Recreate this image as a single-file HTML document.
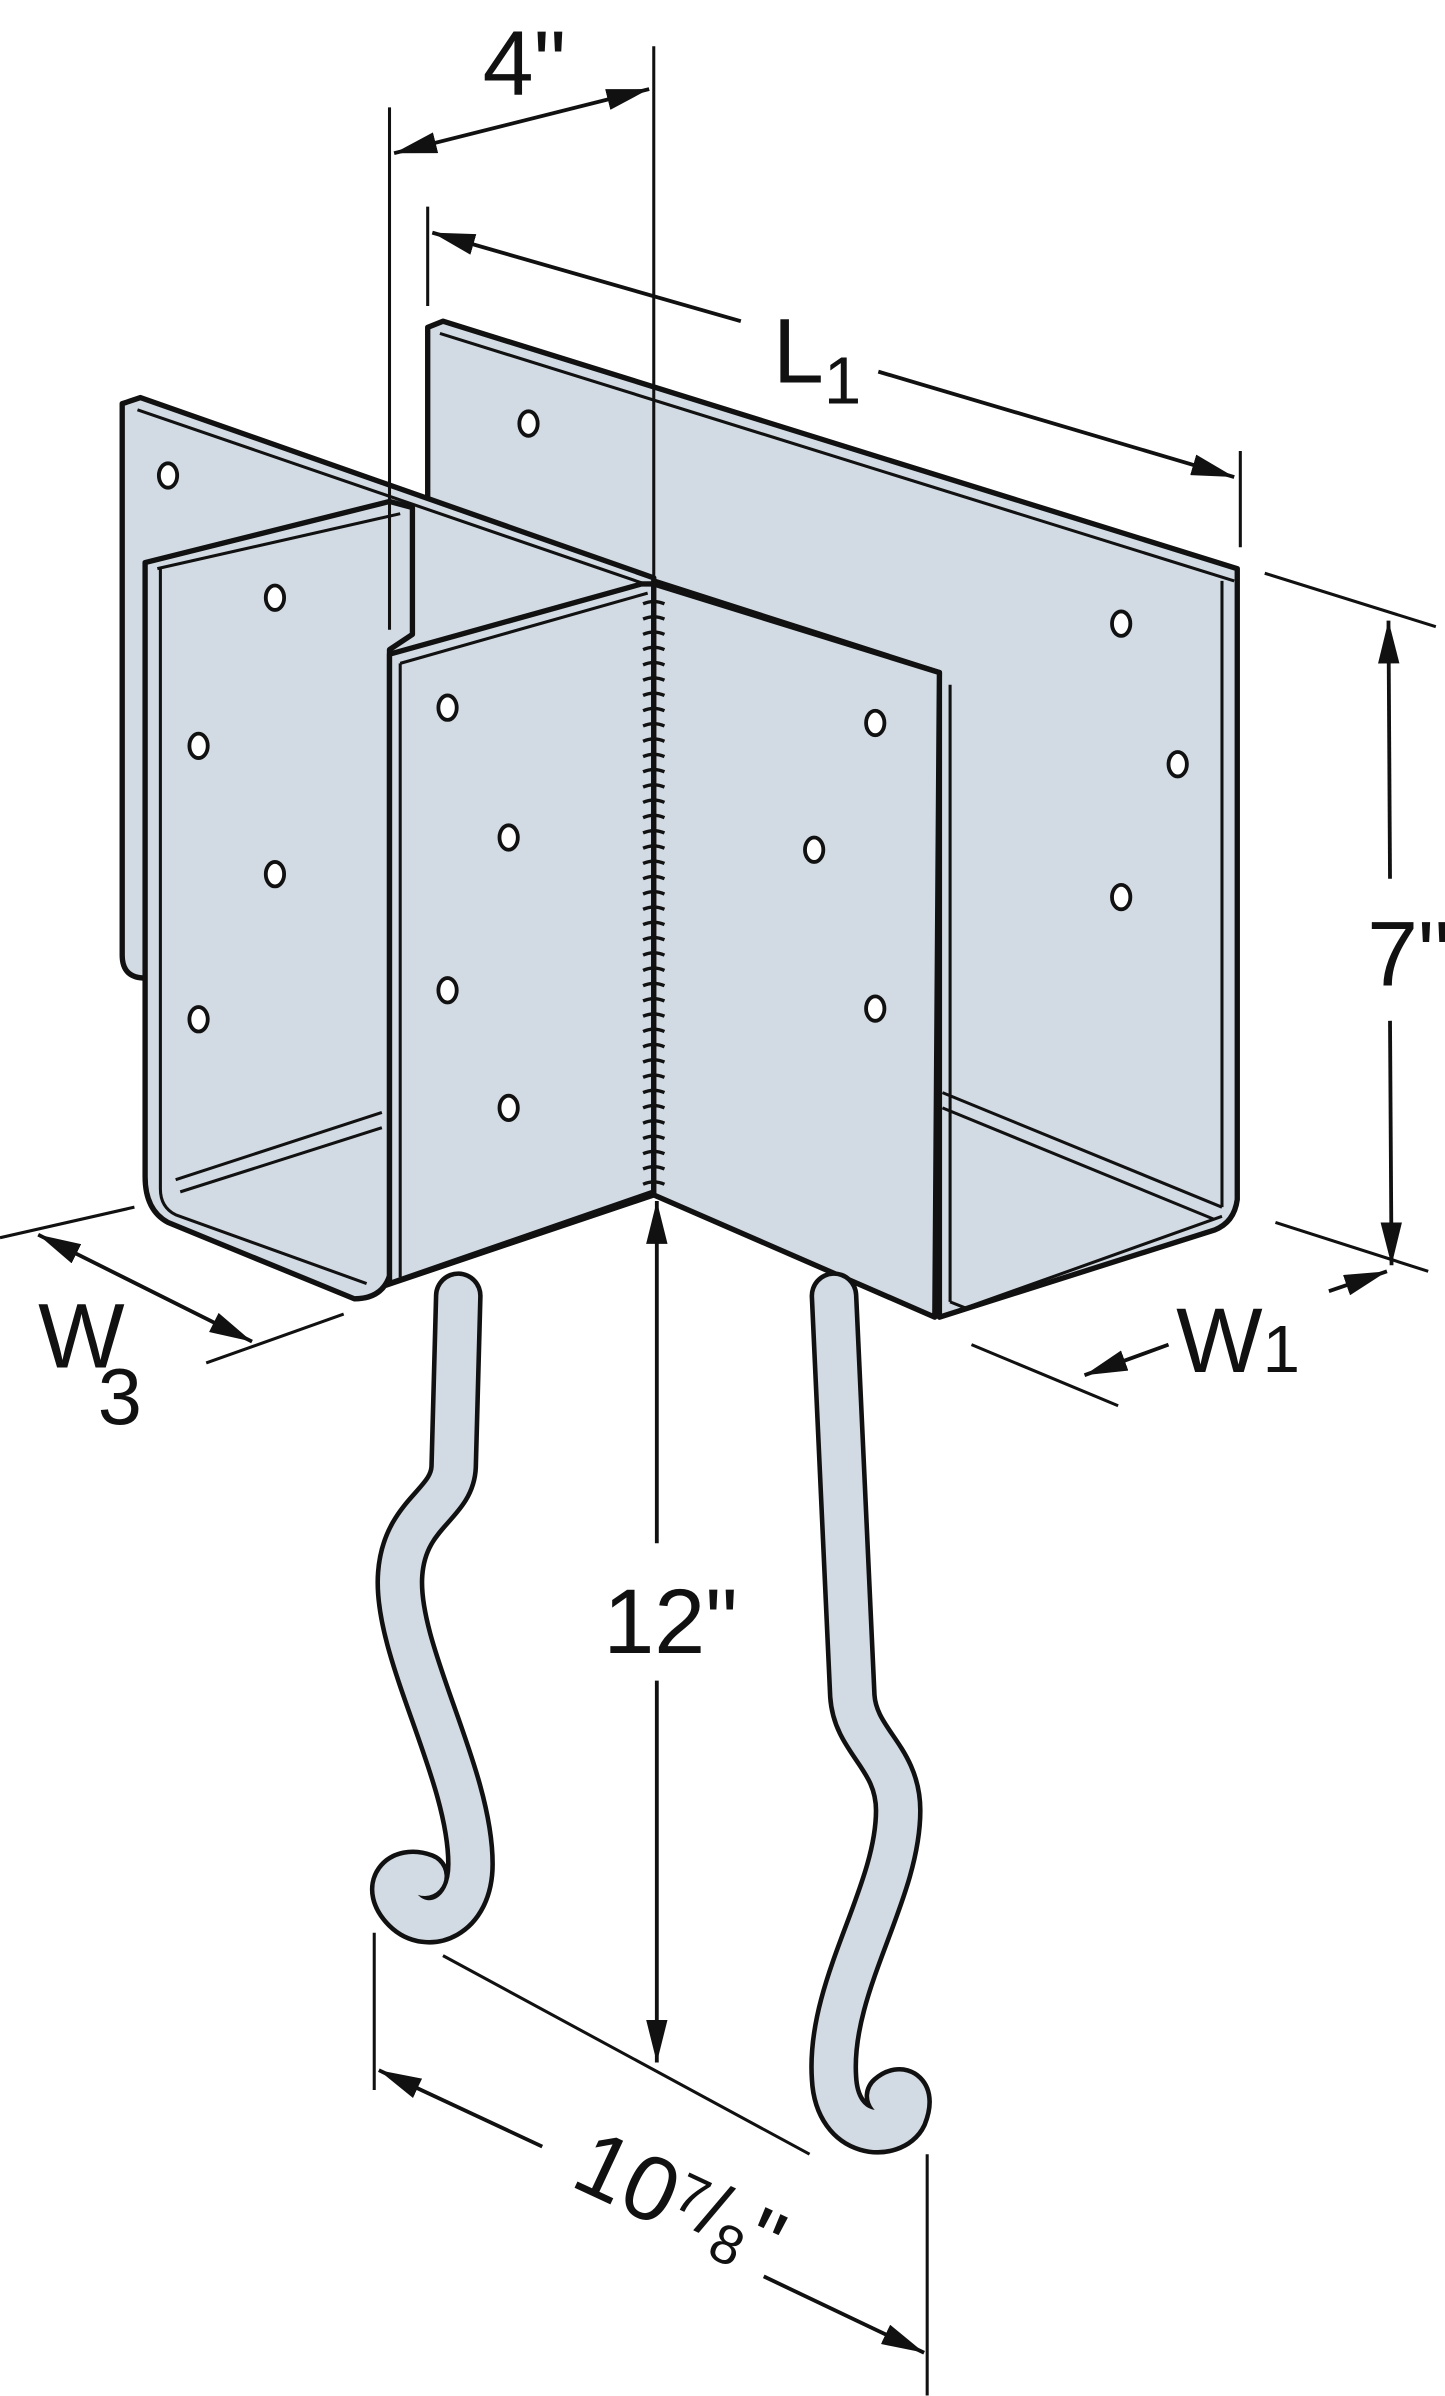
<!DOCTYPE html>
<html><head><meta charset="utf-8"><style>
html,body{margin:0;padding:0;background:#fff}
svg{display:block}
text{font-family:"Liberation Sans Narrow","Liberation Sans",sans-serif;fill:#111}
</style></head><body>
<svg width="1445" height="2396" viewBox="0 0 946 1568" xmlns="http://www.w3.org/2000/svg">
<defs>
<marker id="a" viewBox="0 0 28 14" refX="28" refY="7" markerWidth="28" markerHeight="14" markerUnits="userSpaceOnUse" orient="auto-start-reverse"><path d="M0,0L28,7L0,14z" fill="#111"/></marker>
</defs>
<g stroke="#111" stroke-width="3.5" stroke-linejoin="round" fill="#d2dbe3">
<path d="M280,214 L290,210 L810,372 L810,785 Q808,800 795,805 L615,862 L615,440 L428,380 L280,332Z"/>
<line x1="288" y1="218" x2="808" y2="380" stroke-width="2"/>
<line x1="800" y1="380" x2="800" y2="790" stroke-width="2"/>
<path d="M80,264 L92,260 L428,378 L428,782 L250,842 L95,640 Q80,640 80,625Z"/>
<line x1="90" y1="268" x2="428" y2="384" stroke-width="2"/>
<path d="M95,368 L255,328 L270,332 L270,415 L255,425 L255,835 Q250,850 232,850 L110,800 Q95,792 95,770Z"/>
<line x1="103" y1="372" x2="262" y2="336" stroke-width="2"/>
<path d="M105,372 L105,778 Q105,790 115,795 L240,840" stroke-width="2" fill="none"/>
<line x1="115" y1="772" x2="250" y2="728" stroke-width="2"/>
<line x1="118" y1="780" x2="250" y2="738" stroke-width="2"/>
<polygon points="255,428 420,382 428,382 428,780 255,840"/>
<line x1="262" y1="434" x2="424" y2="388" stroke-width="2"/>
<line x1="262" y1="434" x2="262" y2="836" stroke-width="2"/>
<polygon points="428,382 615,440 612,862 428,782"/>
<line x1="617" y1="715" x2="800" y2="790" stroke-width="2"/>
<line x1="617" y1="725" x2="795" y2="798" stroke-width="2"/>
<polyline points="622,852 632,856 800,796" fill="none" stroke-width="2"/>
<line x1="622" y1="448" x2="622" y2="852" stroke-width="2"/>
</g>
<g stroke="#111" stroke-width="2.2" fill="none">
<path d="M421,395q7,-3 14,0M421,405q7,-3 14,0M421,415q7,-3 14,0M421,425q7,-3 14,0M421,435q7,-3 14,0M421,445q7,-3 14,0M421,455q7,-3 14,0M421,465q7,-3 14,0M421,475q7,-3 14,0M421,485q7,-3 14,0M421,495q7,-3 14,0M421,505q7,-3 14,0M421,515q7,-3 14,0M421,525q7,-3 14,0M421,535q7,-3 14,0M421,545q7,-3 14,0M421,555q7,-3 14,0M421,565q7,-3 14,0M421,575q7,-3 14,0M421,585q7,-3 14,0M421,595q7,-3 14,0M421,605q7,-3 14,0M421,615q7,-3 14,0M421,625q7,-3 14,0M421,635q7,-3 14,0M421,645q7,-3 14,0M421,655q7,-3 14,0M421,665q7,-3 14,0M421,675q7,-3 14,0M421,685q7,-3 14,0M421,695q7,-3 14,0M421,705q7,-3 14,0M421,715q7,-3 14,0M421,725q7,-3 14,0M421,735q7,-3 14,0M421,745q7,-3 14,0M421,755q7,-3 14,0M421,765q7,-3 14,0M421,775q7,-3 14,0"/>
</g>
<g fill="#fff" stroke="#111" stroke-width="2.5">
<ellipse cx="110" cy="311" rx="6" ry="8"/><ellipse cx="346" cy="277" rx="6" ry="8"/>
<ellipse cx="180" cy="391" rx="6" ry="8"/><ellipse cx="130" cy="488" rx="6" ry="8"/>
<ellipse cx="180" cy="572" rx="6" ry="8"/><ellipse cx="130" cy="667" rx="6" ry="8"/>
<ellipse cx="293" cy="463" rx="6" ry="8"/><ellipse cx="333" cy="548" rx="6" ry="8"/>
<ellipse cx="293" cy="648" rx="6" ry="8"/><ellipse cx="333" cy="725" rx="6" ry="8"/>
<ellipse cx="573" cy="473" rx="6" ry="8"/><ellipse cx="533" cy="556" rx="6" ry="8"/>
<ellipse cx="573" cy="660" rx="6" ry="8"/>
<ellipse cx="734" cy="408" rx="6" ry="8"/><ellipse cx="771" cy="500" rx="6" ry="8"/>
<ellipse cx="734" cy="587" rx="6" ry="8"/>
</g>
<g fill="none" stroke-linecap="round" stroke-linejoin="round">
<path d="M300,848 L297,960 C296,985 265,990 262,1030 C258,1080 308,1160 308,1220 C308,1255 280,1265 265,1250 C250,1235 262,1222 278,1228" stroke="#111" stroke-width="32"/>
<path d="M300,848 L297,960 C296,985 265,990 262,1030 C258,1080 308,1160 308,1220 C308,1255 280,1265 265,1250 C250,1235 262,1222 278,1228" stroke="#d2dbe3" stroke-width="26"/>
<path d="M546,848 L558,1110 C560,1140 588,1150 588,1185 C588,1240 542,1300 546,1360 C548,1400 585,1400 592,1385 C598,1370 590,1365 582,1372" stroke="#111" stroke-width="32"/>
<path d="M546,848 L558,1110 C560,1140 588,1150 588,1185 C588,1240 542,1300 546,1360 C548,1400 585,1400 592,1385 C598,1370 590,1365 582,1372" stroke="#d2dbe3" stroke-width="26"/>
</g>
<g stroke="#111" stroke-width="2" fill="none">
<line x1="255" y1="70" x2="255" y2="412"/>
<line x1="428" y1="30" x2="428" y2="378"/>
<line x1="258" y1="100" x2="425" y2="58" marker-start="url(#a)" marker-end="url(#a)" stroke-width="2.5"/>
<line x1="280" y1="135" x2="280" y2="200"/>
<line x1="812" y1="295" x2="812" y2="358"/>
<line x1="283" y1="152" x2="485" y2="210" marker-start="url(#a)" stroke-width="2.5"/>
<line x1="575" y1="243" x2="808" y2="312" marker-end="url(#a)" stroke-width="2.5"/>
<line x1="828" y1="375" x2="940" y2="410"/>
<line x1="835" y1="800" x2="935" y2="832"/>
<line x1="909" y1="406" x2="910" y2="575" marker-start="url(#a)" stroke-width="2.5"/>
<line x1="910" y1="668" x2="911" y2="828" marker-end="url(#a)" stroke-width="2.5"/>
<line x1="636" y1="880" x2="732" y2="920"/>
<line x1="765" y1="880" x2="710" y2="900" marker-end="url(#a)" stroke-width="2.5"/>
<line x1="870" y1="845" x2="908" y2="832" marker-end="url(#a)" stroke-width="2.5"/>
<line x1="0" y1="810" x2="88" y2="790"/>
<line x1="135" y1="892" x2="225" y2="860"/>
<line x1="25" y1="808" x2="165" y2="878" marker-start="url(#a)" marker-end="url(#a)" stroke-width="2.5"/>
<line x1="430" y1="786" x2="430" y2="1010" marker-start="url(#a)" stroke-width="2.5"/>
<line x1="430" y1="1100" x2="430" y2="1350" marker-end="url(#a)" stroke-width="2.5"/>
<line x1="245" y1="1265" x2="245" y2="1368"/>
<line x1="607" y1="1410" x2="607" y2="1568"/>
<line x1="290" y1="1280" x2="530" y2="1410"/>
<line x1="355" y1="1405" x2="248" y2="1355" marker-end="url(#a)" stroke-width="2.5"/>
<line x1="500" y1="1490" x2="605" y2="1540" marker-end="url(#a)" stroke-width="2.5"/>
</g>
<g font-size="60">
<text x="316" y="62">4"</text>
<text x="506" y="250">L<tspan font-size="44" dy="14">1</tspan></text>
<text x="895" y="645">7"</text>
<text x="770" y="898">W<tspan font-size="44" dy="0">1</tspan></text>
<text x="25" y="895">W</text>
<text x="64" y="932" font-size="52">3</text>
<text x="395" y="1082">12"</text>
<text x="372" y="1430" transform="rotate(25 372 1430)">10<tspan font-size="36" dy="-16">7</tspan><tspan font-size="50" dy="8">/</tspan><tspan font-size="36" dy="12">8</tspan><tspan dy="-4">"</tspan></text>
</g>
</svg>
</body></html>
